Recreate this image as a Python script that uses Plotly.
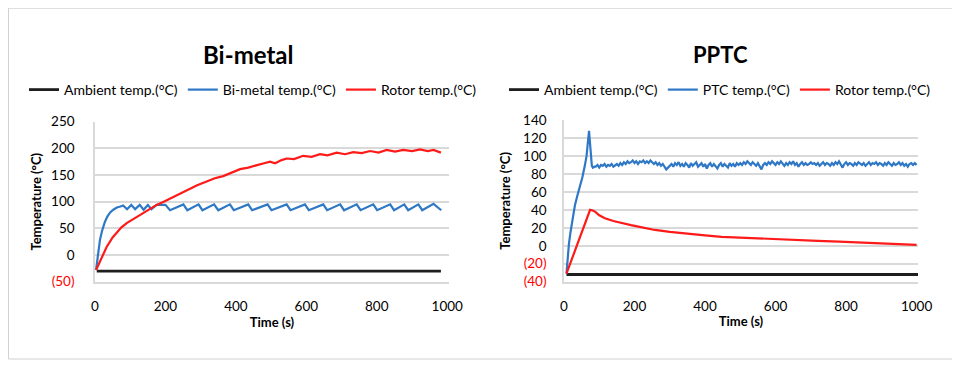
import plotly.graph_objects as go

# ---------------- DATA ----------------
# Bi-metal chart
bm_amb_t = [5, 50, 100, 150, 200, 250, 300, 350, 400, 450, 500, 550, 600, 650, 700, 750, 800, 850, 900, 950, 982]
bm_amb_v = [-30, -30, -29.5, -30, -30, -29.5, -30, -30, -30, -29.5, -30, -30, -30, -29.5, -30, -30, -30, -29.5, -30, -30, -30]

bm_blade_t = [3, 7, 10, 14, 20, 28, 35, 43, 52, 62, 72, 80, 91, 103, 114, 127, 138, 150, 160, 175, 200, 213,
              251, 262, 294, 305, 338, 350, 383, 394, 435, 446, 490, 501, 544, 555, 596, 607, 648, 659,
              696, 707, 743, 754, 790, 801, 838, 849, 878, 889, 918, 929, 961, 983]
bm_blade_v = [-28, -5, 10, 28, 45, 62, 72, 80, 85, 89, 91, 93, 86, 94, 86, 94, 85, 94, 86, 94, 94, 84,
              95, 84, 95, 84, 95, 84, 95, 84, 95, 84, 95, 84, 95, 84, 95, 84, 95, 84,
              95, 84, 95, 84, 95, 84, 95, 84, 95, 84, 95, 84, 96, 84]

bm_rotor_t = [3, 15, 33, 50, 62, 75, 90, 110, 128, 150, 175, 195, 213, 235, 260, 290, 317, 340, 364, 390, 412,
              435, 459, 480, 497, 511, 530, 544, 565, 591, 615, 639, 660, 686, 710, 733, 757, 781, 805, 828,
              852, 875, 900, 923, 945, 961, 982]
bm_rotor_v = [-28, -10, 15, 33, 43, 52, 60, 68, 75, 84, 94, 100, 106, 113, 122, 131, 138, 144, 148, 155, 161,
              164, 169, 172, 175, 172, 178, 181, 180, 186, 184, 189, 187, 192, 189, 193, 191, 195, 192, 197,
              194, 197, 195, 198, 195, 197, 192]

# PPTC chart
pt_amb_t = [7, 50, 100, 150, 200, 250, 300, 350, 400, 450, 500, 550, 600, 650, 700, 750, 800, 850, 900, 950, 1004]
pt_amb_v = [-32, -32, -32, -31.5, -32, -32, -32, -32, -31.5, -32, -32, -32, -32, -32, -31.5, -32, -32, -32, -32, -32, -32]

pt_rise_t = [7, 10, 14, 18, 22, 26, 31, 38, 45, 52, 59, 64, 67, 69, 71, 73, 75, 77, 79, 82, 86]
pt_rise_v = [-31, -15, 2, 14, 24, 34, 45, 56, 65, 76, 89, 100, 112, 120, 128, 118, 106, 96, 89, 87, 88]
# steady part, sampled every 5 s from t = 90 s
pt_steady_v = [88, 90, 87, 90, 89, 91, 88, 90, 89, 91, 88, 90,
               91, 89, 92, 90, 93, 91, 94, 92, 93, 95, 92, 94, 91, 94, 93, 95, 92, 94, 92, 95, 93, 91, 93, 90, 92, 89, 91, 88, 85, 87,
               89, 91, 88, 92, 90, 93, 89, 91, 88, 92, 90, 87, 92, 89, 91, 93, 88, 90, 92, 88, 91, 86, 90, 92, 88, 91, 89, 86, 90, 92, 88, 91, 89, 87, 92, 89, 91, 88, 92, 90,
               92, 90, 93, 91, 94, 92, 90, 93, 91, 89, 92, 88, 85, 90, 92, 90, 93, 91, 94, 92, 90, 93, 91, 94, 92, 89, 92, 90, 93, 91, 94, 90, 92, 88, 91, 93, 90, 92, 90, 91,
               93, 91, 92, 90, 92, 89, 91, 93, 90, 92, 91, 89, 92, 90, 93, 91, 94, 90, 87, 91, 93, 90, 92, 91, 89, 92, 90, 93, 91, 90, 92, 89, 91, 93, 90, 92, 91, 93, 90, 92,
               91, 89, 92, 90, 93, 91, 89, 92, 90, 91, 93, 90, 92, 89, 91, 88, 91, 92, 90, 92, 90]
pt_steady_t = list(range(90, 90 + 5 * len(pt_steady_v), 5))
pt_ptc_t = pt_rise_t + pt_steady_t
pt_ptc_v = pt_rise_v + pt_steady_v

pt_rotor_t = [7, 20, 35, 50, 62, 74, 80, 88, 100, 116, 140, 164, 190, 211, 235, 258, 300, 352, 400, 447,
              500, 560, 620, 660, 720, 780, 849, 900, 950, 1000]
pt_rotor_v = [-31, -17, -1, 14, 27, 40, 39.5, 38, 34, 30.6, 27.5, 25, 23, 21.3, 19.5, 17.6, 15.5, 13, 11.5, 10,
              9, 7.8, 7, 6.5, 5.5, 4.5, 3.5, 2.5, 1.7, 1]

x_ticks = [0, 200, 400, 600, 800, 1000]
x_ticktext = ["0", "200", "400", "600", "800", "1000"]
bm_y_ticks = [-50, 0, 50, 100, 150, 200, 250]
bm_y_text = ['<span style="color:#ff0000">(50)</span>', "0", "50", "100", "150", "200", "250"]
pt_y_ticks = [-40, -20, 0, 20, 40, 60, 80, 100, 120, 140]
pt_y_text = ['<span style="color:#ff0000">(40)</span>', '<span style="color:#ff0000">(20)</span>',
             "0", "20", "40", "60", "80", "100", "120", "140"]

titles = ["Bi-metal", "PPTC"]
bm_names = ["Ambient temp.(°C)", "Bi-metal temp.(°C)", "Rotor temp.(°C)"]
pt_names = ["Ambient temp.(°C)", "PTC temp.(°C)", "Rotor temp.(°C)"]

# ---------------- STYLE ----------------
# The page body has an 8px margin, so the figure is drawn 8px in from the window corner.
OFF = 8
W, H = 960 - OFF, 370 - OFF
FONT = "Lato, 'Liberation Sans', Arial, sans-serif"
BLACK = "#1e1e1e"
BLUE = "#2e78c6"
RED = "#ff1a1a"
GRID = "#d9d9d9"

fig = go.Figure()

fig.add_trace(go.Scatter(x=bm_amb_t, y=bm_amb_v, mode="lines", name=bm_names[0],
                         line=dict(color=BLACK, width=2.8), xaxis="x", yaxis="y", legend="legend"))
fig.add_trace(go.Scatter(x=bm_blade_t, y=bm_blade_v, mode="lines", name=bm_names[1],
                         line=dict(color=BLUE, width=2.2), xaxis="x", yaxis="y", legend="legend"))
fig.add_trace(go.Scatter(x=bm_rotor_t, y=bm_rotor_v, mode="lines", name=bm_names[2],
                         line=dict(color=RED, width=2.2), xaxis="x", yaxis="y", legend="legend"))

fig.add_trace(go.Scatter(x=pt_amb_t, y=pt_amb_v, mode="lines", name=pt_names[0],
                         line=dict(color=BLACK, width=2.8), xaxis="x2", yaxis="y2", legend="legend2"))
fig.add_trace(go.Scatter(x=pt_ptc_t, y=pt_ptc_v, mode="lines", name=pt_names[1],
                         line=dict(color=BLUE, width=2.2), xaxis="x2", yaxis="y2", legend="legend2"))
fig.add_trace(go.Scatter(x=pt_rotor_t, y=pt_rotor_v, mode="lines", name=pt_names[2],
                         line=dict(color=RED, width=2.2), xaxis="x2", yaxis="y2", legend="legend2"))


def px_x(p):
    return (p - OFF) / W


def px_y(p):
    return 1 - (p - OFF) / H


def x_axis(**kw):
    d = dict(tickvals=x_ticks, ticktext=x_ticktext, showgrid=False, zeroline=False, automargin=False,
             showline=True, linecolor=GRID, linewidth=1.5, ticks="", ticklabelstandoff=11,
             tickfont=dict(family=FONT, size=13.5, color="#000"),
             title=dict(text="<b>Time (s)</b>", font=dict(family=FONT, size=13, color="#000"), standoff=4))
    d.update(kw)
    return d


def y_axis(standoff, **kw):
    d = dict(showgrid=True, gridcolor=GRID, gridwidth=1.5, zeroline=False, automargin=False,
             showline=True, linecolor=GRID, linewidth=1.5, ticks="",
             tickfont=dict(family=FONT, size=13.5, color="#000"),
             title=dict(text="<b>Temperature (°C)</b>", font=dict(family=FONT, size=13, color="#000"),
                        standoff=standoff))
    d.update(kw)
    return d


fig.update_layout(
    width=W, height=H,
    margin=dict(l=0, r=0, t=0, b=0, autoexpand=False),
    paper_bgcolor="white", plot_bgcolor="white",
    font=dict(family=FONT, color="#000"),
    xaxis=x_axis(domain=[px_x(95), px_x(449)], range=[0, 1005], anchor="y"),
    yaxis=y_axis(6, domain=[px_y(281.7), px_y(121.7)], range=[-50, 250], anchor="x",
                 tickvals=bm_y_ticks, ticktext=bm_y_text, ticklabelstandoff=16),
    xaxis2=x_axis(domain=[px_x(564), px_x(918)], range=[0, 1004], anchor="y2"),
    yaxis2=y_axis(9, domain=[px_y(281.7), px_y(120)], range=[-40, 140], anchor="x2",
                  tickvals=pt_y_ticks, ticktext=pt_y_text, ticklabelstandoff=13),
    legend=dict(orientation="h", x=px_x(24), y=px_y(90), xanchor="left", yanchor="middle",
                font=dict(family=FONT, size=14, color="#000"), bgcolor="rgba(0,0,0,0)"),
    legend2=dict(orientation="h", x=px_x(504), y=px_y(90), xanchor="left", yanchor="middle",
                 font=dict(family=FONT, size=14, color="#000"), bgcolor="rgba(0,0,0,0)"),
    annotations=[
        dict(text="<b>%s</b>" % titles[0], x=px_x(248), y=px_y(55), xref="paper", yref="paper",
             xanchor="center", yanchor="middle", showarrow=False,
             font=dict(family=FONT, size=24, color="#000")),
        dict(text="<b>%s</b>" % titles[1], x=px_x(720), y=px_y(55), xref="paper", yref="paper",
             xanchor="center", yanchor="middle", showarrow=False,
             font=dict(family=FONT, size=22, color="#000")),
    ],
    shapes=[dict(type="rect", xref="paper", yref="paper", x0=0.0005, x1=px_x(958), y0=px_y(359), y1=0.9995,
                 line=dict(color="#d0d0d0", width=1))],
)

fig.write_html("out.html")
